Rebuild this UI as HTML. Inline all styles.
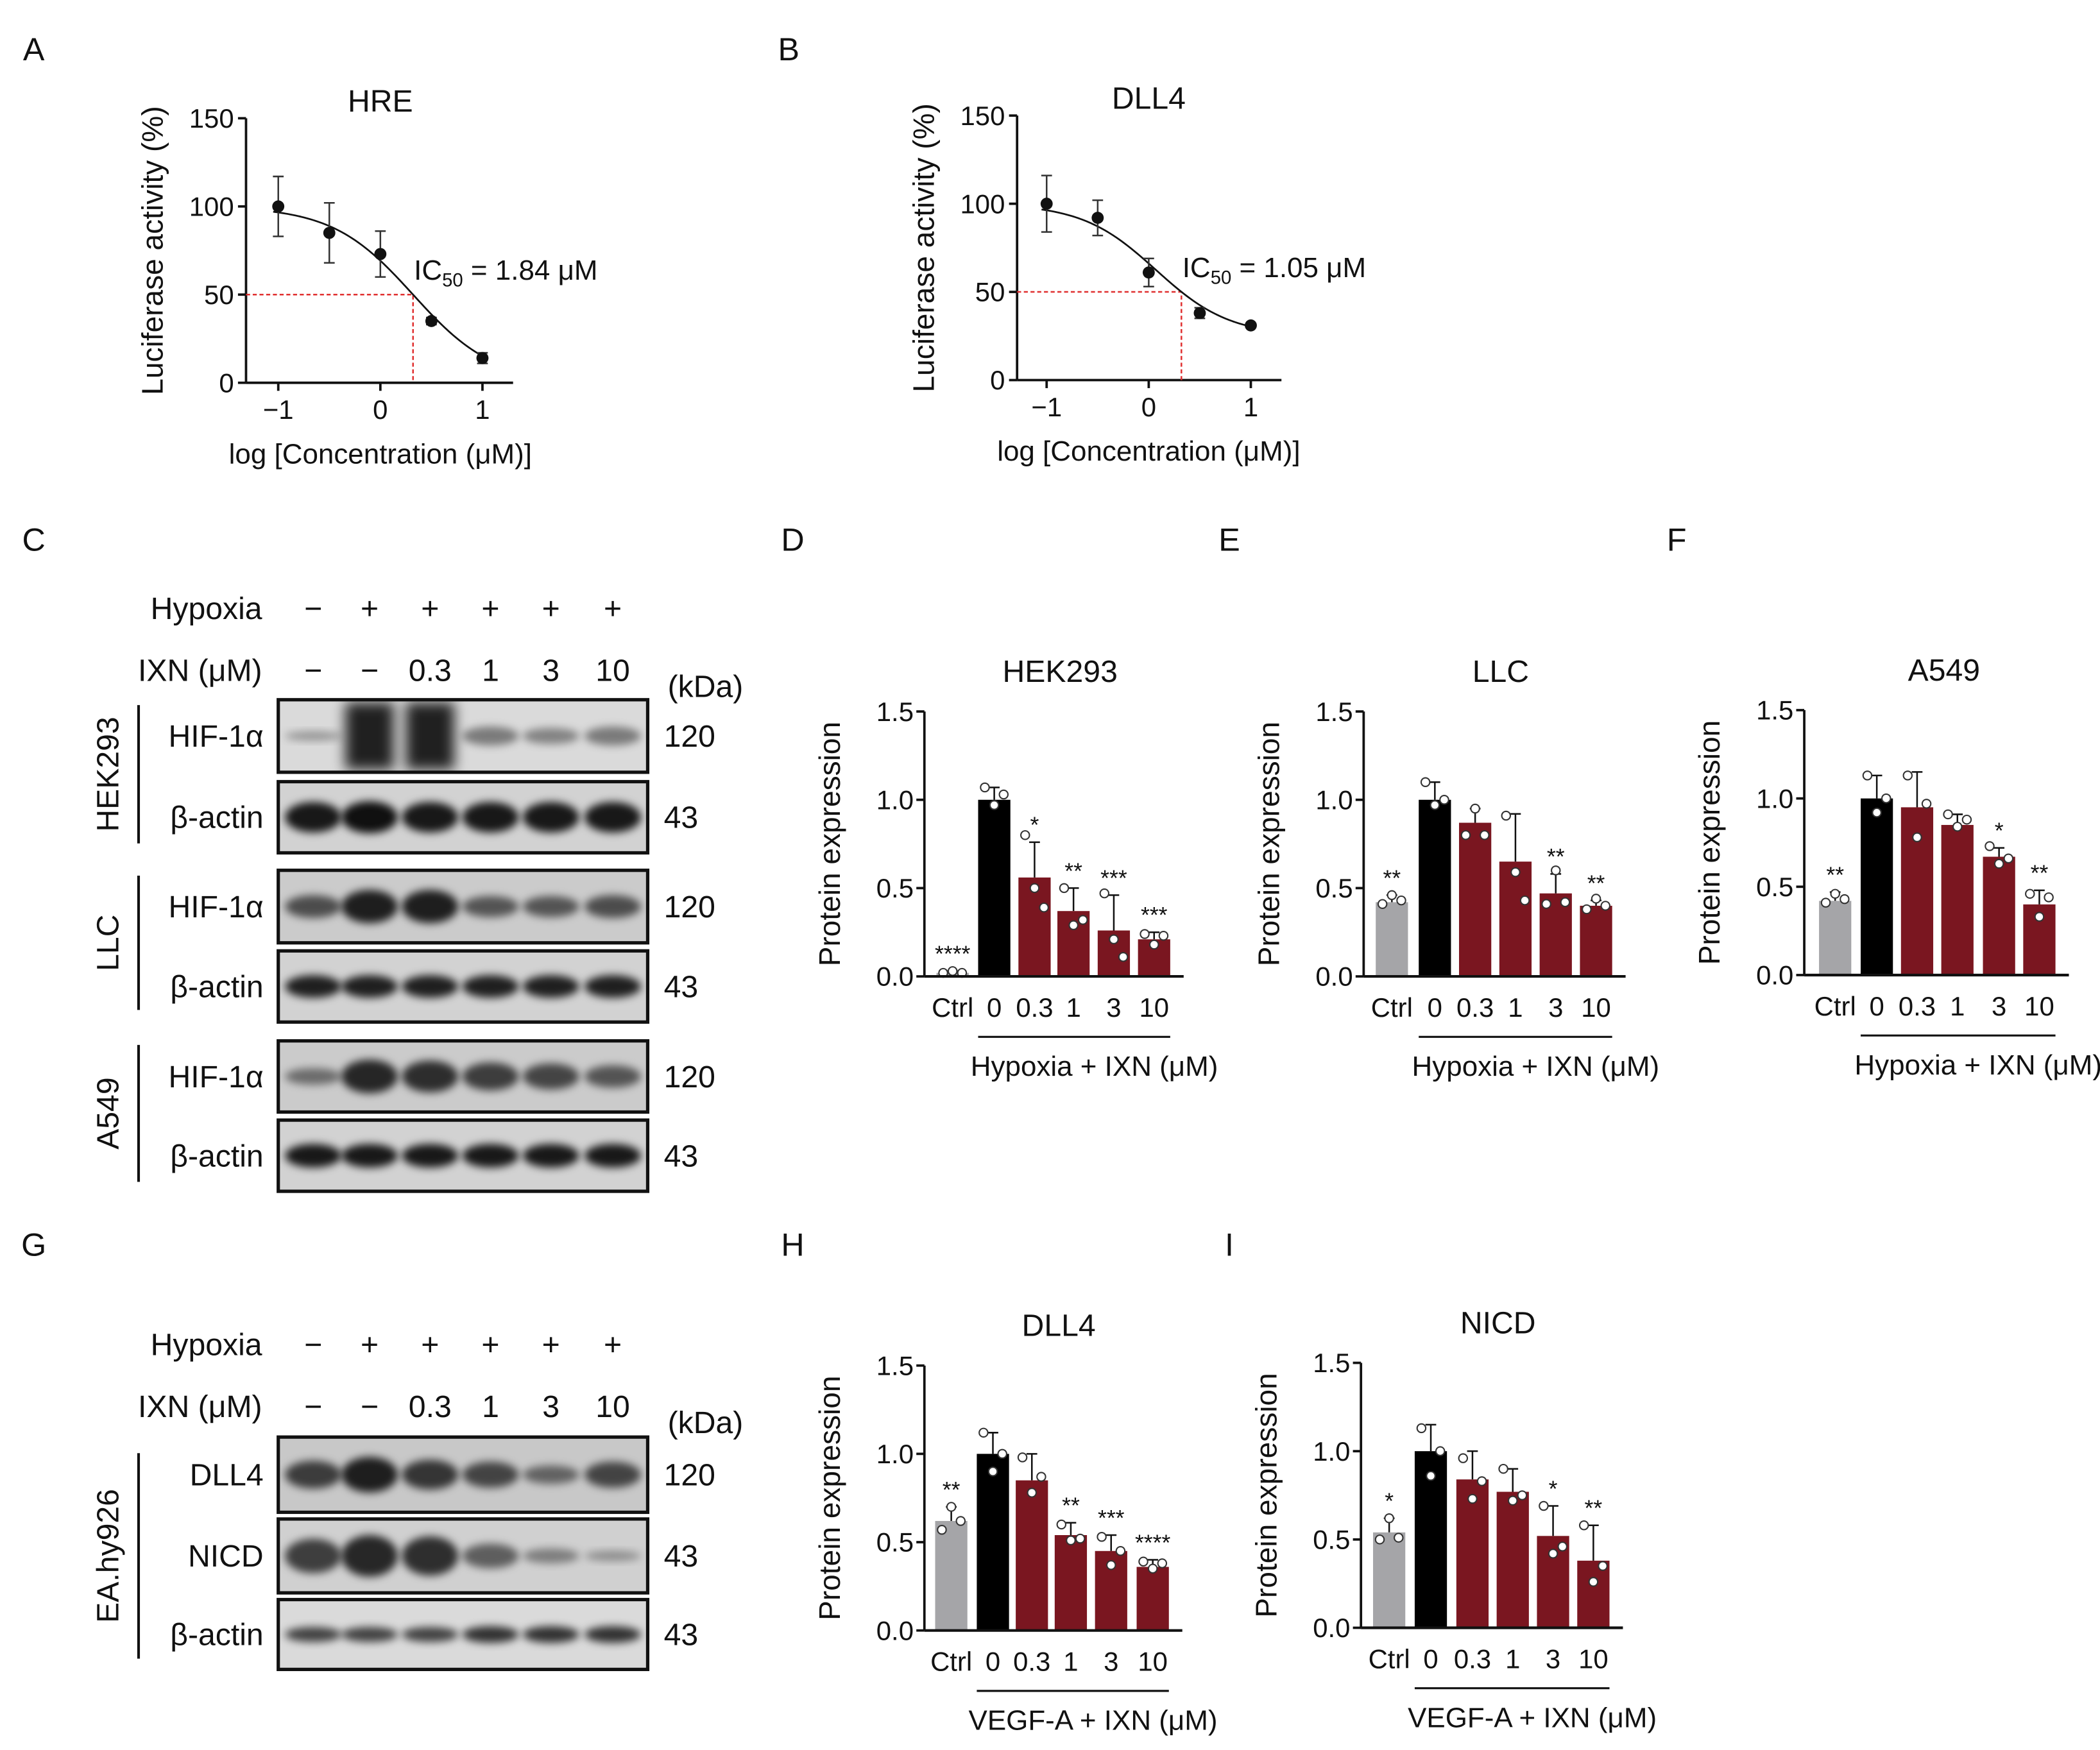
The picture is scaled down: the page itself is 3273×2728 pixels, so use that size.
<!DOCTYPE html>
<html><head><meta charset="utf-8"><style>
html,body{margin:0;padding:0;background:#fff}
svg{display:block}
text{font-family:"Liberation Sans",sans-serif;fill:#111}
</style></head><body>
<svg id="fig" width="3273" height="2728" viewBox="0 0 1563 1303" xmlns="http://www.w3.org/2000/svg">
<defs>
<filter id="blur" x="-50%" y="-50%" width="200%" height="200%"><feGaussianBlur stdDeviation="3"/></filter>
<filter id="blur2" x="-50%" y="-50%" width="200%" height="200%"><feGaussianBlur stdDeviation="5"/></filter>
</defs>
<g id="root"></g>
</svg>
<script>
// ---------- Dose-response data ----------
const hreX=[-1,-0.5,0,0.5,1];
const hreY=[100,85,73,35,14];
const hreErr=[17,17,13,2,3];
const dllX=[-1,-0.5,0,0.5,1];
const dllY=[100,92,61,38,31];
const dllErr=[16,10,8,3,1];
const yTicksDR=[0,50,100,150];
const xTicksDR=[-1,0,1];

// ---------- Bar data ----------
const barCats=["Ctrl","0","0.3","1","3","10"];
const dVals=[0.02,1.0,0.56,0.37,0.26,0.21];
const dErr=[0.01,0.07,0.2,0.13,0.2,0.04];
const dDots=[[0.02,0.03,0.02],[1.07,0.97,1.03],[0.8,0.5,0.39],[0.5,0.29,0.32],[0.47,0.21,0.11],[0.24,0.18,0.23]];
const dStars=["****","","*","**","***","***"];
const eVals=[0.42,1.0,0.87,0.65,0.47,0.40];
const eErr=[0.04,0.1,0.08,0.27,0.11,0.03];
const eDots=[[0.41,0.46,0.43],[1.1,0.97,1.0],[0.8,0.95,0.8],[0.91,0.59,0.43],[0.41,0.6,0.42],[0.38,0.44,0.4]];
const eStars=["**","","","","**","**"];
const fVals=[0.42,1.0,0.95,0.85,0.67,0.40];
const fErr=[0.05,0.13,0.2,0.06,0.05,0.08];
const fDots=[[0.41,0.46,0.43],[1.13,0.92,1.0],[1.13,0.78,0.97],[0.91,0.84,0.88],[0.73,0.63,0.66],[0.46,0.33,0.44]];
const fStars=["**","","","","*","**"];
const hVals=[0.62,1.0,0.85,0.54,0.45,0.36];
const hErr=[0.08,0.12,0.15,0.07,0.09,0.04];
const hDots=[[0.57,0.7,0.62],[1.12,0.9,1.0],[0.98,0.78,0.87],[0.6,0.51,0.52],[0.53,0.37,0.45],[0.39,0.35,0.38]];
const hStars=["**","","","**","***","****"];
const iVals=[0.54,1.0,0.84,0.77,0.52,0.38];
const iErr=[0.08,0.15,0.16,0.13,0.17,0.2];
const iDots=[[0.5,0.62,0.51],[1.13,0.86,1.0],[0.96,0.73,0.83],[0.9,0.72,0.75],[0.69,0.42,0.46],[0.58,0.26,0.35]];
const iStars=["*","","","","*","**"];
const barTicks=[0,0.5,1.0,1.5];

const NS="http://www.w3.org/2000/svg";
const root=document.getElementById('root');
function el(tag,attrs,parent,txt){const e=document.createElementNS(NS,tag);for(const k in attrs)e.setAttribute(k,attrs[k]);if(txt!==undefined)e.textContent=txt;(parent||root).appendChild(e);return e;}
function grp(name,parent){const g=el('g',{},parent);


return g;}

// panel letters
[["A",25,45],["B",587,45],["C",25,410],["D",590,410],["E",915,410],["F",1248,410],["G",25,935],["H",590,935],["I",915,935]].forEach(p=>{
 const t=el('text',{x:p[1],y:p[2],'font-size':24,'text-anchor':'middle'},root,p[0]);
 
 
});

// ---------- dose response ----------
function doseChart(name,ox,y0px,x0px,xs,ys,er,title,ic,icLog,cLog,slope,top,bottom){
 const g=grp(name);
 const sx=v=>x0px+v*76;
 const sy=v=>y0px-v*1.313;
 el('line',{x1:ox,y1:sy(150),x2:ox,y2:sy(0),stroke:'#111','stroke-width':1.8},g);
 el('line',{x1:ox,y1:sy(0),x2:sx(1.3),y2:sy(0),stroke:'#111','stroke-width':1.8},g);
 yTicksDR.forEach(t=>{el('line',{x1:ox-6,y1:sy(t),x2:ox,y2:sy(t),stroke:'#111','stroke-width':1.8},g);
  el('text',{x:ox-9,y:sy(t)+7,'font-size':20,'text-anchor':'end'},g,String(t));});
 xTicksDR.forEach(t=>{el('line',{x1:sx(t),y1:sy(0),x2:sx(t),y2:sy(0)+6,stroke:'#111','stroke-width':1.8},g);
  el('text',{x:sx(t),y:sy(0)+27,'font-size':20,'text-anchor':'middle'},g,t<0?'\u22121':String(t));});
 el('polyline',{points:`${ox},${sy(50)} ${sx(icLog)},${sy(50)} ${sx(icLog)},${sy(0)}`,fill:'none',stroke:'#e03030','stroke-width':1.2,'stroke-dasharray':'3,2'},g);
 let pts=[];for(let v=-1.05;v<=1.02;v+=0.02){const y=bottom+(top-bottom)/(1+Math.pow(10,(v-cLog)*slope));pts.push(sx(v)+','+sy(y));}
 el('polyline',{points:pts.join(' '),fill:'none',stroke:'#111','stroke-width':1.3},g);
 xs.forEach((x,i)=>{const cx=sx(x);
  el('line',{x1:cx,y1:sy(ys[i]+er[i]),x2:cx,y2:sy(ys[i]-er[i]),stroke:'#333','stroke-width':1.2},g);
  el('line',{x1:cx-4,y1:sy(ys[i]+er[i]),x2:cx+4,y2:sy(ys[i]+er[i]),stroke:'#333','stroke-width':1.2},g);
  el('line',{x1:cx-4,y1:sy(ys[i]-er[i]),x2:cx+4,y2:sy(ys[i]-er[i]),stroke:'#333','stroke-width':1.2},g);
  const c=el('circle',{cx:cx,cy:sy(ys[i]),r:4.5,fill:'#111'},g);
  
  
 });
 el('text',{x:x0px,y:sy(150)-5,'font-size':23,'text-anchor':'middle'},g,title);
 const ict=el('text',{x:x0px+25,y:sy(50)-11,'font-size':21},g);
 el('tspan',{},ict,'IC');el('tspan',{'font-size':14,dy:5},ict,'50');el('tspan',{dy:-5},ict,' = '+ic+' \u03bcM');
 el('text',{x:x0px,y:sy(0)+60,'font-size':21,'text-anchor':'middle'},g,'log [Concentration (\u03bcM)]');
 el('text',{transform:`translate(${ox-62},${sy(75)}) rotate(-90)`,'font-size':22,'text-anchor':'middle'},g,'Luciferase activity (%)');
}
doseChart('chart-hre',183,285,283,hreX,hreY,hreErr,'HRE','1.84',0.32,0.32,1.1,100,0);
doseChart('chart-dll4-luciferase',757,283,855,dllX,dllY,dllErr,'DLL4','1.05',0.32,0.07,1.2,100,25);

// ---------- bar charts ----------
function barChart(name,ox,y0,centers,vals,err,dots,stars,title,xlab){
 const g=grp(name);
 const sy=v=>y0-v*131.5;
 const colors=['#a5a5a8','#000','#7a1620','#7a1620','#7a1620','#7a1620'];
 vals.forEach((v,i)=>{const cx=centers[i];
  el('line',{x1:cx,y1:sy(v),x2:cx,y2:sy(v+err[i]),stroke:'#111','stroke-width':1.2},g);
  el('line',{x1:cx-4,y1:sy(v+err[i]),x2:cx+4,y2:sy(v+err[i]),stroke:'#111','stroke-width':1.2},g);
  const b=el('rect',{x:cx-12,y:sy(v),width:24,height:sy(0)-sy(v),fill:colors[i]},g);
  
  
  dots[i].forEach((d,k)=>{el('circle',{cx:cx+(k-1)*7,cy:sy(d),r:3.2,fill:'#fff',stroke:'#333','stroke-width':1},g);});
  if(stars[i])el('text',{x:cx,y:sy(v+err[i])-7,'font-size':17,'text-anchor':'middle'},g,stars[i]);
  el('text',{x:cx,y:sy(0)+30,'font-size':20,'text-anchor':'middle'},g,barCats[i]);
 });
 el('line',{x1:ox,y1:sy(1.5),x2:ox,y2:sy(0),stroke:'#111','stroke-width':1.8},g);
 el('line',{x1:ox,y1:sy(0),x2:centers[5]+22,y2:sy(0),stroke:'#111','stroke-width':2},g);
 barTicks.forEach(t=>{el('line',{x1:ox-6,y1:sy(t),x2:ox,y2:sy(t),stroke:'#111','stroke-width':1.8},g);
  el('text',{x:ox-8,y:sy(t)+7,'font-size':20,'text-anchor':'end'},g,t.toFixed(1));});
 el('line',{x1:centers[1]-12,y1:sy(0)+45,x2:centers[5]+12,y2:sy(0)+45,stroke:'#111','stroke-width':1.5},g);
 el('text',{x:(centers[1]+centers[5])/2+15,y:sy(0)+74,'font-size':21,'text-anchor':'middle'},g,xlab);
 el('text',{x:(centers[0]+centers[5])/2+5,y:sy(1.5)-22,'font-size':23,'text-anchor':'middle'},g,title);
 el('text',{transform:`translate(${ox-63},${sy(0.75)}) rotate(-90)`,'font-size':22,'text-anchor':'middle'},g,'Protein expression');
}
barChart('chart-d-hek293',688,727,[709,740,770,799,829,859],dVals,dErr,dDots,dStars,'HEK293','Hypoxia + IXN (\u03bcM)');
barChart('chart-e-llc',1015,727,[1036,1068,1098,1128,1158,1188],eVals,eErr,eDots,eStars,'LLC','Hypoxia + IXN (\u03bcM)');
barChart('chart-f-a549',1343,726,[1366,1397,1427,1457,1488,1518],fVals,fErr,fDots,fStars,'A549','Hypoxia + IXN (\u03bcM)');
barChart('chart-h-dll4',688,1214,[708,739,768,797,827,858],hVals,hErr,hDots,hStars,'DLL4','VEGF-A + IXN (\u03bcM)');
barChart('chart-i-nicd',1013,1212,[1034,1065,1096,1126,1156,1186],iVals,iErr,iDots,iStars,'NICD','VEGF-A + IXN (\u03bcM)');

// ---------- Western blots ----------
const lanes=[233,275,320,365,410,456];
const hyp=['\u2212','+','+','+','+','+'];
const ixn=['\u2212','\u2212','0.3','1','3','10'];
function headers(y1,y2,name){const g=grp(name);
 el('text',{x:195,y:y1,'font-size':23,'text-anchor':'end'},g,'Hypoxia');
 el('text',{x:195,y:y2,'font-size':23,'text-anchor':'end'},g,'IXN (\u03bcM)');
 lanes.forEach((x,i)=>{el('text',{x:x,y:y1,'font-size':23,'text-anchor':'middle'},g,hyp[i]);el('text',{x:x,y:y2,'font-size':23,'text-anchor':'middle'},g,ixn[i]);});
 el('text',{x:525,y:y2+12,'font-size':23,'text-anchor':'middle'},g,'(kDa)');
}
headers(461,507,'blot-c-header');headers(1009,1055,'blot-g-header');
let clipId=0;
function blot(name,y,h,label,kda,intens,bg,bandH,smear){
 const g=grp(name);
 const cid='clip'+(clipId++);
 const cp=el('clipPath',{id:cid},g);el('rect',{x:207,y:y,width:275,height:h},cp);
 el('rect',{x:207,y:y,width:275,height:h,fill:bg},g);
 const bg2=grp('bands',g);bg2.setAttribute('clip-path','url(#'+cid+')');
 lanes.forEach((x,i)=>{if(intens[i]<=0)return;
  if(smear&&intens[i]>0.7){el('rect',{x:x-18,y:y+2,width:36,height:h-4,fill:'#000','fill-opacity':0.85,filter:'url(#blur2)'},bg2);}
  else el('ellipse',{cx:x,cy:y+h/2,rx:21,ry:bandH*intens[i]/2+2,fill:'#000','fill-opacity':Math.min(1,0.25+intens[i]*0.75),filter:'url(#blur)'},bg2);});
 el('rect',{x:207,y:y,width:275,height:h,fill:'none',stroke:'#111','stroke-width':2.5},g);
 el('text',{x:196,y:y+h/2+8,'font-size':23,'text-anchor':'end'},g,label);
 el('text',{x:494,y:y+h/2+8,'font-size':23},g,kda);
}
const act=[0.85,0.9,0.85,0.85,0.85,0.85];
blot('blot-hek-hif',521,54,'HIF-1\u03b1','120',[0.08,1.0,0.95,0.25,0.2,0.25],'#dadada',40,true);
blot('blot-hek-actin',582,53,'\u03b2-actin','43',act,'#d2d2d2',22);
blot('blot-llc-hif',648,54,'HIF-1\u03b1','120',[0.5,0.8,0.8,0.45,0.45,0.5],'#cbcbcb',26);
blot('blot-llc-actin',708,53,'\u03b2-actin','43',[0.8,0.8,0.8,0.8,0.8,0.8],'#d2d2d2',16);
blot('blot-a549-hif',775,53,'HIF-1\u03b1','120',[0.3,0.75,0.7,0.6,0.55,0.45],'#cbcbcb',28);
blot('blot-a549-actin',834,53,'\u03b2-actin','43',[0.85,0.85,0.85,0.85,0.85,0.85],'#d2d2d2',16);
blot('blot-g-dll4',1070,56,'DLL4','120',[0.6,0.8,0.65,0.55,0.35,0.55],'#c8c8c8',28);
blot('blot-g-nicd',1131,55,'NICD','43',[0.6,0.75,0.7,0.4,0.2,0.1],'#d0d0d0',36);
blot('blot-g-actin',1191,52,'\u03b2-actin','43',[0.6,0.6,0.6,0.7,0.7,0.7],'#dadada',12);
function bracket(name,y1,y2,label){const g=grp(name);
 el('line',{x1:103,y1:y1,x2:103,y2:y2,stroke:'#111','stroke-width':2},g);
 el('text',{transform:`translate(88,${(y1+y2)/2}) rotate(-90)`,'font-size':23,'text-anchor':'middle'},g,label);}
bracket('label-hek293',525,628,'HEK293');bracket('label-llc',652,752,'LLC');bracket('label-a549',778,880,'A549');bracket('label-eahy926',1082,1235,'EA.hy926');
</script>
</body></html>
